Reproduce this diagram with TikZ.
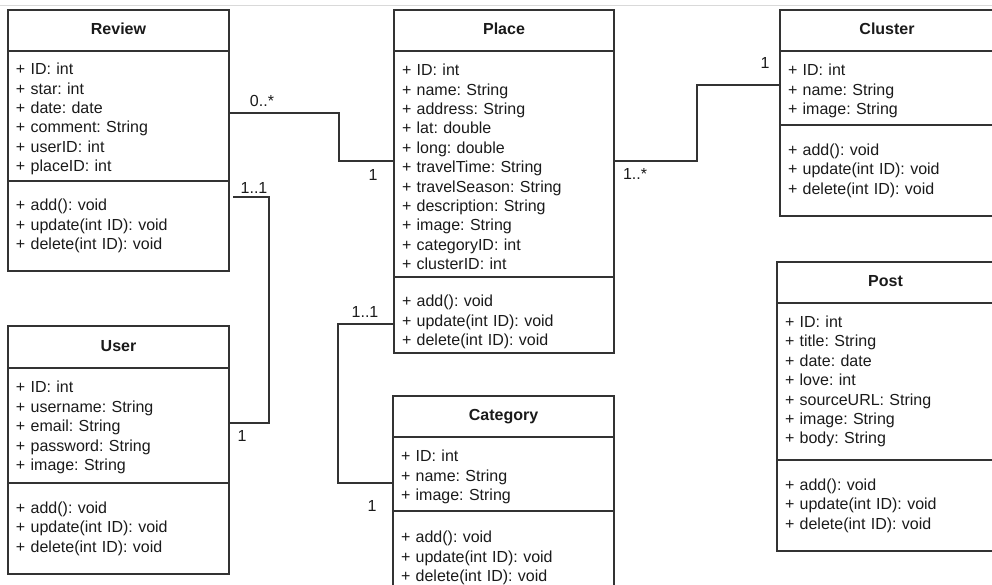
\documentclass[tikz,border=0pt]{standalone}
\usepackage{fontspec}
\setmainfont{Liberation Sans}
\usepackage{tikz}
\usetikzlibrary{positioning}
\definecolor{umlline}{HTML}{333333}
\definecolor{umltext}{HTML}{1A1A1A}
\frenchspacing

\begin{document}
\begin{tikzpicture}[x=1pt, y=-1pt,
  classhead/.style={draw=umlline, line width=1.2pt, outer sep=0pt, inner sep=0pt, anchor=north west, minimum width=#1, minimum height=41pt, text=umltext, font=\fontsize{16}{19.4}\selectfont\bfseries, text height=11.5pt, text depth=3.5pt},
  classbody/.style={draw=umlline, line width=1.2pt, outer sep=0pt, inner xsep=8pt, inner ysep=0pt, text width=#1, align=left, text=umltext, font=\fontsize{16}{19.4}\selectfont},
  pad/.style={execute at begin node={\rule{0pt}{#1}}},
  assoc/.style={draw=umlline, line width=1.2pt},
  mult/.style={inner sep=0pt, text=umltext, font=\fontsize{16}{19.4}\selectfont}
]
\useasboundingbox (0,0) rectangle (992,585);
\draw[black!15, line width=0.8pt] (0,5) -- (992,5);

% Review
\node[classhead=221pt] (review) at (8,10) {Review};
\node[classbody=205pt, pad=17.7pt, minimum height=130pt, below=0pt of review] (review-attr) {+ ID: int\\+ star: int\\+ date: date\\+ comment: String\\+ userID: int\\+ placeID: int};
\node[classbody=205pt, minimum height=90pt, below=0pt of review-attr] (review-ops) {+ add(): void\\+ update(int ID): void\\+ delete(int ID): void};

% User
\node[classhead=221pt, minimum height=42pt] (user) at (8,326) {User};
\node[classbody=205pt, pad=15.7pt, minimum height=115pt, below=0pt of user] (user-attr) {+ ID: int\\+ username: String\\+ email: String\\+ password: String\\+ image: String};
\node[classbody=205pt, minimum height=91pt, below=0pt of user-attr] (user-ops) {+ add(): void\\+ update(int ID): void\\+ delete(int ID): void};

% Place
\node[classhead=220pt] (place) at (394,10) {Place};
\node[classbody=204pt, pad=17.7pt, minimum height=226pt, below=0pt of place] (place-attr) {+ ID: int\\+ name: String\\+ address: String\\+ lat: double\\+ long: double\\+ travelTime: String\\+ travelSeason: String\\+ description: String\\+ image: String\\+ categoryID: int\\+ clusterID: int};
\node[classbody=204pt, pad=25.7pt, minimum height=76pt, below=0pt of place-attr] (place-ops) {+ add(): void\\+ update(int ID): void\\+ delete(int ID): void};

% Category
\node[classhead=221pt] (category) at (393,396) {Category};
\node[classbody=205pt, pad=17.7pt, minimum height=74pt, below=0pt of category] (category-attr) {+ ID: int\\+ name: String\\+ image: String};
\node[classbody=205pt, pad=15.7pt, minimum height=90pt, below=0pt of category-attr] (category-ops) {+ add(): void\\+ update(int ID): void\\+ delete(int ID): void};

% Cluster
\node[classhead=214pt] (cluster) at (780,10) {Cluster};
\node[classbody=198pt, pad=17.7pt, minimum height=74pt, below=0pt of cluster] (cluster-attr) {+ ID: int\\+ name: String\\+ image: String};
\node[classbody=198pt, minimum height=91pt, below=0pt of cluster-attr] (cluster-ops) {+ add(): void\\+ update(int ID): void\\+ delete(int ID): void};

% Post
\node[classhead=217pt] (post) at (777,262) {Post};
\node[classbody=201pt, minimum height=157pt, below=0pt of post] (post-attr) {+ ID: int\\+ title: String\\+ date: date\\+ love: int\\+ sourceURL: String\\+ image: String\\+ body: String};
\node[classbody=201pt, minimum height=91pt, below=0pt of post-attr] (post-ops) {+ add(): void\\+ update(int ID): void\\+ delete(int ID): void};

% Associations
\draw[assoc] ([yshift=3pt]review-attr.east) -- ++(110,0) |- ([yshift=3pt]place-attr.west);
\draw[assoc] ([shift={(4pt,29pt)}]review-ops.east) -- ++(36,0) |- ([yshift=2.5pt]user-attr.east);
\draw[assoc] ([yshift=-9pt]place-ops.west) -- ++(-56,0) |- ([yshift=-9pt]category-attr.west);
\draw[assoc] ([yshift=3pt]place-attr.east) -- ++(83,0) |- ([yshift=3pt]cluster-attr.west);

% Multiplicities
\node[mult] (m-review) at (262,101) {0..*};
\node[mult] (m-place-r) at (373,175) {1};
\node[mult] (m-review-u) at (254,188) {1..1};
\node[mult] (m-user) at (242,436) {1};
\node[mult] (m-place-c) at (365,312) {1..1};
\node[mult] (m-category) at (372,506) {1};
\node[mult] (m-place-cl) at (635,174) {1..*};
\node[mult] (m-cluster) at (765,63) {1};

\end{tikzpicture}
\end{document}
